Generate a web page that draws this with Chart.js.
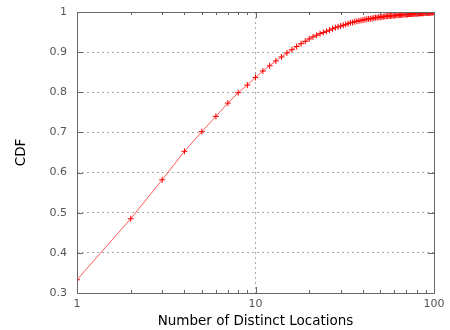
<!DOCTYPE html>
<html>
<head>
<meta charset="utf-8">
<script src="https://cdn.jsdelivr.net/npm/chart.js@4"></script>
<style>
  html, body { margin: 0; padding: 0; background: #fff; }
  #wrap { width: 450px; height: 330px; }
</style>
</head>
<body>
<div id="wrap"><canvas id="cdf-chart" width="450" height="330"></canvas></div>
<script>
// data (x = 1..100)
let locations, cdfValues, xTickLabels, yTickLabels;

locations = [];
for (let i = 1; i <= 100; i++) locations.push(i);

cdfValues = [
  0.333, 0.485, 0.582, 0.653, 0.702, 0.740, 0.773, 0.799, 0.818, 0.837,
  0.853, 0.866, 0.878, 0.888, 0.898, 0.906, 0.914, 0.921, 0.927, 0.933,
  0.938, 0.942, 0.946, 0.949, 0.952, 0.955, 0.958, 0.961, 0.963, 0.965,
  0.967, 0.969, 0.971, 0.973, 0.974, 0.976, 0.977, 0.978, 0.979, 0.980,
  0.981, 0.982, 0.983, 0.983, 0.984, 0.985, 0.986, 0.986, 0.987, 0.987,
  0.988, 0.988, 0.989, 0.989, 0.990, 0.990, 0.990, 0.991, 0.991, 0.991,
  0.992, 0.992, 0.992, 0.993, 0.993, 0.993, 0.993, 0.994, 0.994, 0.994,
  0.994, 0.995, 0.995, 0.995, 0.995, 0.995, 0.996, 0.996, 0.996, 0.996,
  0.996, 0.996, 0.997, 0.997, 0.997, 0.997, 0.997, 0.997, 0.998, 0.998,
  0.998, 0.998, 0.998, 0.998, 0.998, 0.999, 0.999, 0.999, 0.999, 1.000
];

xTickLabels = [1, 10, 100];
yTickLabels = [0.3, 0.4, 0.5, 0.6, 0.7, 0.8, 0.9, 1];

const points = locations.map((x, i) => ({ x: x, y: cdfValues[i] }));

// minor+major positions for the log axis
const xTickValues = [];
for (let d = 1; d < 100; d *= 10) {
  for (let m = 1; m < 10; m++) xTickValues.push(m * d);
}
xTickValues.push(100);

// gnuplot style: box border and inward ticks on all four sides
const frame = {
  id: 'frame',
  afterDraw(chart) {
    const ctx = chart.ctx, a = chart.chartArea;
    const xs = chart.scales.x, ys = chart.scales.y;
    ctx.save();
    ctx.strokeStyle = '#666';
    ctx.lineWidth = 1;
    ctx.strokeRect(Math.round(a.left) + 0.5, Math.round(a.top) + 0.5,
      Math.round(a.right - a.left), Math.round(a.bottom - a.top));
    ctx.beginPath();
    xTickValues.forEach(v => {
      const px = Math.round(xs.getPixelForValue(v)) + 0.5;
      const len = xTickLabels.includes(v) ? 6 : 3;
      ctx.moveTo(px, a.bottom); ctx.lineTo(px, a.bottom - len);
      ctx.moveTo(px, a.top); ctx.lineTo(px, a.top + len);
    });
    yTickLabels.forEach(v => {
      const py = Math.round(ys.getPixelForValue(v)) + 0.5;
      ctx.moveTo(a.left, py); ctx.lineTo(a.left + 6, py);
      ctx.moveTo(a.right, py); ctx.lineTo(a.right - 6, py);
    });
    ctx.stroke();
    ctx.restore();
  }
};

new Chart(document.getElementById('cdf-chart'), {
  type: 'line',
  data: {
    datasets: [{
      data: points,
      borderColor: 'rgba(255,0,0,0.65)',
      borderWidth: 1,
      pointStyle: 'cross',
      pointRadius: 3,
      pointBorderColor: '#ff0000',
      pointBorderWidth: 1,
      fill: false,
      tension: 0
    }]
  },
  options: {
    responsive: false,
    animation: false,
    layout: { padding: { left: 0, right: 16, top: 12, bottom: 0 } },
    plugins: { legend: { display: false }, tooltip: { enabled: false } },
    scales: {
      x: {
        type: 'logarithmic',
        min: 1,
        max: 100,
        afterBuildTicks: s => { s.ticks = xTickValues.map(v => ({ value: v })); },
        afterFit: s => { s.height = 37; },
        ticks: {
          autoSkip: false,
          maxRotation: 0,
          padding: 5,
          color: '#555',
          font: { family: 'DejaVu Sans', size: 11 },
          callback: v => xTickLabels.includes(v) ? String(v) : ''
        },
        grid: {
          drawTicks: false,
          color: c => (c.tick && c.tick.value === 10) ? '#aaa' : 'rgba(0,0,0,0)'
        },
        border: { display: false, dash: [2, 3] },
        title: {
          display: true,
          text: 'Number of Distinct Locations',
          color: '#000',
          padding: { top: 2, bottom: 0 },
          font: { family: 'DejaVu Sans', size: 13.5 }
        }
      },
      y: {
        min: 0.3,
        max: 1,
        afterBuildTicks: s => { s.ticks = yTickLabels.map(v => ({ value: v })); },
        afterFit: s => { s.width = 77; s.paddingTop = 0; s.paddingBottom = 0; },
        ticks: {
          padding: 10,
          color: '#555',
          font: { family: 'DejaVu Sans', size: 11 },
          callback: v => Math.abs(v - 1) < 1e-9 ? '1' : v.toFixed(1)
        },
        grid: {
          drawTicks: false,
          color: '#aaa'
        },
        border: { display: false, dash: [2, 3] },
        title: {
          display: true,
          text: 'CDF',
          color: '#000',
          padding: { top: 13, bottom: 0 },
          font: { family: 'DejaVu Sans', size: 13.5 }
        }
      }
    }
  },
  plugins: [frame]
});
</script>
</body>
</html>
